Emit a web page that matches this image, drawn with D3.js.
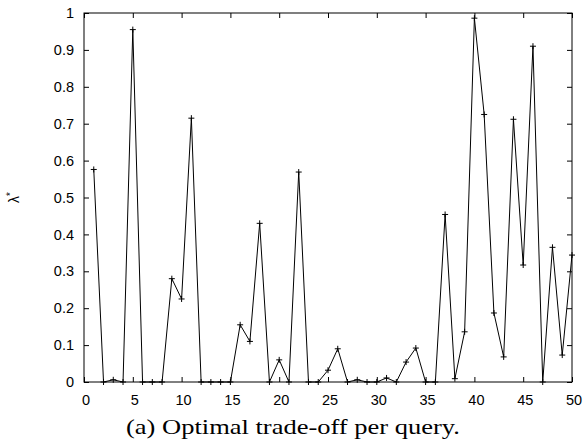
<!DOCTYPE html>
<html>
<head>
<meta charset="utf-8">
<script src="https://cdn.jsdelivr.net/npm/d3@7"></script>
<style>
  body { margin: 0; background: #fff; }
  svg text { font-family: "Liberation Sans", Arial, sans-serif; }
</style>
</head>
<body>
<div id="chart"></div>
<script>
// query index and the optimal lambda found for each
var queries = d3.range(1, 51);
var lambdas = [
  0.576, 0, 0.006, 0, 0.955, 0, 0, 0, 0.28, 0.225,
  0.715, 0, 0, 0, 0, 0.155, 0.11, 0.43, 0, 0.06,
  0, 0.569, 0, 0, 0.032, 0.09, 0, 0.006, 0, 0,
  0.011, 0, 0.054, 0.092, 0, 0, 0.454, 0.009, 0.136, 0.986,
  0.725, 0.187, 0.068, 0.712, 0.317, 0.91, 0, 0.365, 0.073, 0.344
];
var xTicks = [0, 5, 10, 15, 20, 25, 30, 35, 40, 45, 50];
var yTicks = [0, 0.1, 0.2, 0.3, 0.4, 0.5, 0.6, 0.7, 0.8, 0.9, 1];
var caption = "(a) Optimal trade-off per query.";

var data = queries.map(function (q, i) {
  return { q: q, v: lambdas[i] };
});

// plot frame in page pixels
var margin = { top: 13, right: 12, bottom: 61, left: 84 },
  width = 584 - margin.left - margin.right,
  height = 443 - margin.top - margin.bottom;

var svg = d3
  .select("#chart")
  .append("svg")
  .attr("width", 584)
  .attr("height", 443);

var g = svg
  .append("g")
  .attr("transform", "translate(" + margin.left + "," + margin.top + ")");

var x = d3.scaleLinear().domain([0, 50]).range([0, width]);
var y = d3.scaleLinear().domain([0, 1]).range([height, 0]);

// gnuplot style: ticks point inward, mirrored on top and right
var tickLen = 5;

g.append("g")
  .attr("transform", "translate(0," + height + ")")
  .call(d3.axisBottom(x).tickValues(xTicks).tickSize(-tickLen).tickPadding(13).tickFormat(d3.format("d")))
  .call(function (a) {
    a.select(".domain").remove();
    a.selectAll("text").style("font-size", "14.5px").attr("dx", "1.5");
  });

g.append("g")
  .call(d3.axisTop(x).tickValues(xTicks).tickSize(-tickLen).tickFormat(""))
  .call(function (a) { a.select(".domain").remove(); });

g.append("g")
  .call(d3.axisLeft(y).tickValues(yTicks).tickSize(-tickLen).tickPadding(10).tickFormat(function (d) {
    return d3.format("")(+d.toFixed(1));
  }))
  .call(function (a) {
    a.select(".domain").remove();
    a.selectAll("text").style("font-size", "14.5px");
  });

g.append("g")
  .attr("transform", "translate(" + width + ",0)")
  .call(d3.axisRight(y).tickValues(yTicks).tickSize(-tickLen).tickFormat(""))
  .call(function (a) { a.select(".domain").remove(); });

g.selectAll(".tick line").attr("stroke", "#000");

g.append("rect")
  .attr("width", width)
  .attr("height", height)
  .attr("fill", "none")
  .attr("stroke", "#000")
  .attr("stroke-width", 1);

// the series
var line = d3
  .line()
  .x(function (d) { return x(d.q); })
  .y(function (d) { return y(d.v); });

g.append("path")
  .datum(data)
  .attr("d", line)
  .attr("fill", "none")
  .attr("stroke", "#000")
  .attr("stroke-width", 1);

// plus markers
var m = 3;
g.selectAll(".pt")
  .data(data)
  .enter()
  .append("path")
  .attr("class", "pt")
  .attr("d", function (d) {
    var px = x(d.q), py = y(d.v);
    return "M" + (px - m) + "," + py + "H" + (px + m) + "M" + px + "," + (py - m) + "V" + (py + m);
  })
  .attr("stroke", "#000")
  .attr("stroke-width", 1);

// y label
svg.append("text")
  .attr("transform", "translate(19," + (margin.top + height / 2) + ") rotate(-90)")
  .attr("text-anchor", "middle")
  .style("font-size", "14px")
  .html("λ<tspan dy='-5' font-size='10px'>*</tspan>");

// caption
svg.append("text")
  .attr("x", 126)
  .attr("y", 434)
  .attr("textLength", 334)
  .attr("lengthAdjust", "spacingAndGlyphs")
  .style("font-family", "'Liberation Serif', 'DejaVu Serif', serif")
  .style("font-size", "22px")
  .text(caption);
</script>
</body>
</html>
